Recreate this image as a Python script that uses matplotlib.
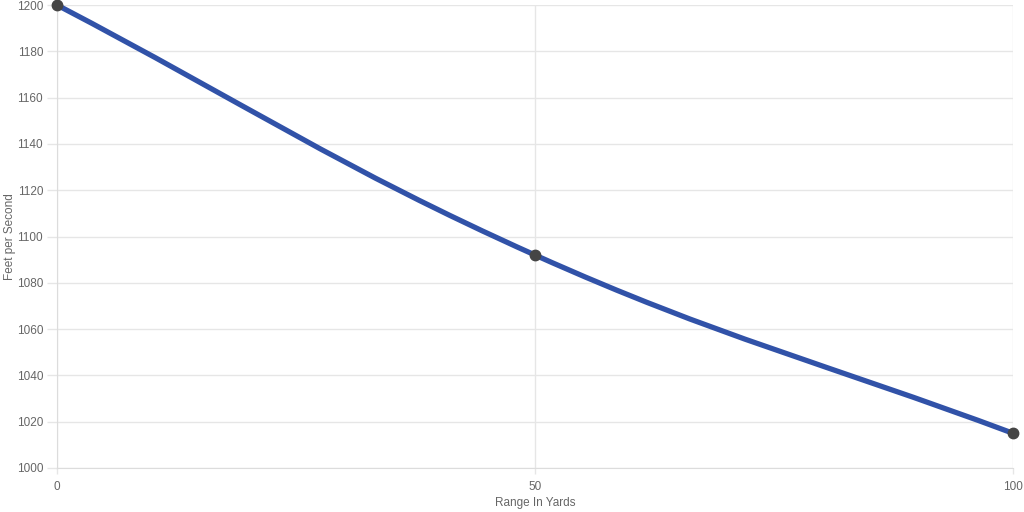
import matplotlib

matplotlib.use("Agg")
import matplotlib.pyplot as plt
import numpy as np
from matplotlib.path import Path
from matplotlib.patches import PathPatch

range_yards = [0, 50, 100]
feet_per_second = [1200, 1092, 1015]
y_ticks = list(range(1000, 1201, 20))
x_ticks = [0, 50, 100]

LINE = "#3152a8"
GRID = "#e6e6e6"
TEXT = "#666666"

plt.rcParams["font.family"] = ["Liberation Sans", "DejaVu Sans"]

fig = plt.figure(figsize=(10.24, 5.12), dpi=100)
ax = fig.add_axes([57 / 1024, 1 - 468 / 512, (1013 - 57) / 1024, (468 - 5) / 512])
ax.set_xlim(0, 100)
ax.set_ylim(1000, 1200)


def spline_path(ax, xs, ys, tension=0.4):
    # chart.js-style bezier, control points computed in pixel space
    pts = ax.transData.transform(np.column_stack([xs, ys]))
    n = len(pts)
    verts = [pts[0]]
    codes = [Path.MOVETO]
    ctrl = []
    for i in range(n):
        p0 = pts[max(i - 1, 0)]
        p1 = pts[i]
        p2 = pts[min(i + 1, n - 1)]
        d01 = np.hypot(*(p1 - p0))
        d12 = np.hypot(*(p2 - p1))
        tot = d01 + d12
        s01 = d01 / tot if tot else 0
        s12 = d12 / tot if tot else 0
        prev_c = p1 - tension * s01 * (p2 - p0)
        next_c = p1 + tension * s12 * (p2 - p0)
        ctrl.append((prev_c, next_c))
    for i in range(1, n):
        verts += [ctrl[i - 1][1], ctrl[i][0], pts[i]]
        codes += [Path.CURVE4] * 3
    inv = ax.transData.inverted()
    return Path(inv.transform(np.array(verts)), codes)


ax.add_patch(PathPatch(spline_path(ax, range_yards, feet_per_second),
                       facecolor="none", edgecolor=LINE, lw=3.8,
                       capstyle="round", joinstyle="round", zorder=3))
ax.plot(range_yards, feet_per_second, "o", color="#454545", ms=7.5,
        mec="#454545", zorder=4, clip_on=False)

ax.set_xticks(x_ticks)
ax.set_yticks(y_ticks)
ax.grid(True, color=GRID, lw=1)
ax.set_axisbelow(True)
for side in ["top", "right"]:
    ax.spines[side].set_visible(False)
for side in ["left", "bottom"]:
    ax.spines[side].set_color("#dcdcdc")
ax.tick_params(axis="both", colors=GRID, labelcolor=TEXT, labelsize=8.5, length=7, width=1, pad=3)
ax.tick_params(axis="x", length=4, pad=5)

ax.set_xlabel("Range In Yards", color=TEXT, fontsize=8.5)
ax.set_ylabel("Feet per Second", color=TEXT, fontsize=8.5)
ax.xaxis.set_label_coords(0.5, -0.062)
ax.yaxis.set_label_coords(-0.043, 0.5)

fig.savefig("out.png", dpi=100)
